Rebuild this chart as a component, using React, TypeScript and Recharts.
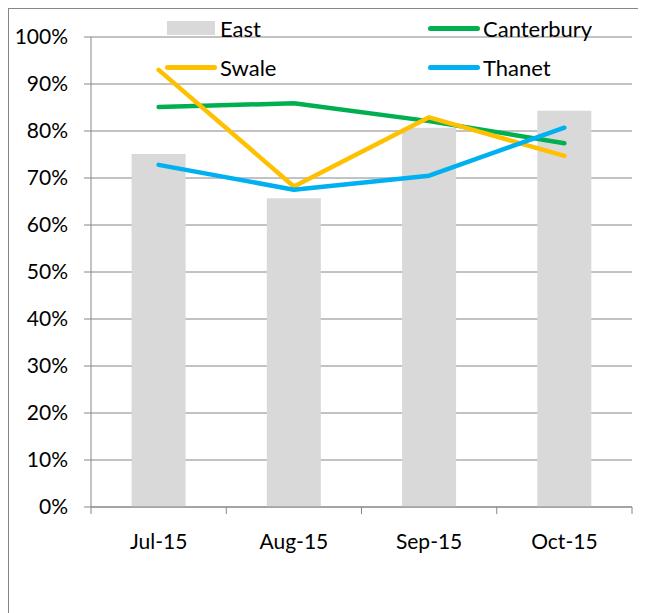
import { ComposedChart, Bar, Line, XAxis, YAxis, CartesianGrid } from "recharts";

const months = ["Jul-15", "Aug-15", "Sep-15", "Oct-15"];
const east = [0.751, 0.657, 0.807, 0.843];
const canterbury = [0.851, 0.859, 0.821, 0.774];
const swale = [0.93, 0.682, 0.829, 0.747];
const thanet = [0.728, 0.675, 0.705, 0.807];
const yTicks = [0, 0.1, 0.2, 0.3, 0.4, 0.5, 0.6, 0.7, 0.8, 0.9, 1];

const data = months.map((m, i) => ({
      month: m,
      East: east[i],
      Canterbury: canterbury[i],
      Swale: swale[i],
      Thanet: thanet[i],
}));

const FONT = "Lato, 'Open Sans', sans-serif";
const AXIS = "#868686";
const W = 634;
const H = 618;
const M = { top: 28, right: 11, left: 22, bottom: 80 };
const Y_W = 60;
const BAND = (W - M.left - M.right - Y_W) / months.length;

const legendItems = [
      { name: "East", color: "#D9D9D9", kind: "bar", x: 158, y: 9 },
      { name: "Canterbury", color: "#00B050", kind: "line", x: 419, y: 9 },
      { name: "Swale", color: "#FFC000", kind: "line", x: 156, y: 48 },
      { name: "Thanet", color: "#00B0F0", kind: "line", x: 419, y: 48 },
];

const MonthTick = (props: any) => {
      const { x, y, payload, index } = props;
      const left = x - BAND / 2;
      return (
            <g>
                  <line x1={left} y1={y} x2={left} y2={y + 7} stroke={AXIS} />
                  {index === months.length - 1 && (
                        <line x1={x + BAND / 2} y1={y} x2={x + BAND / 2} y2={y + 7} stroke={AXIS} />
                  )}
                  <text x={x} y={y + 33} textAnchor="middle" dominantBaseline="central" fill="#000" fontSize={21} fontFamily={FONT}>
                        {payload.value}
                  </text>
            </g>
      );
};

const App = () => {
      return (
            <div style={{ position: "relative", width: W + 2, height: H + 2, border: `1px solid ${AXIS}`, boxSizing: "border-box", background: "#fff" }}>
                  <ComposedChart width={W} height={H} data={data} margin={M} barCategoryGap="30%">
                        <CartesianGrid vertical={false} stroke={AXIS} />
                        <XAxis
                              dataKey="month"
                              stroke={AXIS}
                              tickLine={false}
                              tickSize={0}
                              tickMargin={0}
                              height={40}
                              tick={<MonthTick />}
                              interval={0}
                        />
                        <YAxis
                              domain={[0, 1]}
                              ticks={yTicks}
                              width={Y_W}
                              stroke={AXIS}
                              tickSize={7}
                              tickMargin={16}
                              tickFormatter={(v: number) => `${Math.round(v * 100)}%`}
                              tick={{ fill: "#000", fontSize: 21, fontFamily: FONT }}
                        />
                        <Bar dataKey="East" fill="#D9D9D9" isAnimationActive={false} />
                        <Line dataKey="Canterbury" stroke="#00B050" strokeWidth={4.5} dot={false} strokeLinecap="round" strokeLinejoin="round" isAnimationActive={false} />
                        <Line dataKey="Swale" stroke="#FFC000" strokeWidth={4.5} dot={false} strokeLinecap="round" strokeLinejoin="round" isAnimationActive={false} />
                        <Line dataKey="Thanet" stroke="#00B0F0" strokeWidth={4.5} dot={false} strokeLinecap="round" strokeLinejoin="round" isAnimationActive={false} />
                  </ComposedChart>
                  {legendItems.map((it) => (
                        <div key={it.name} style={{ position: "absolute", left: it.x, top: it.y, height: 20, display: "flex", alignItems: "center", fontFamily: FONT, fontSize: 22, color: "#000", whiteSpace: "nowrap" }}>
                              {it.kind === "bar" ? (
                                    <div style={{ width: 48, height: 14, background: it.color }} />
                              ) : (
                                    <div style={{ width: 52, height: 5, borderRadius: 3, background: it.color }} />
                              )}
                              <span style={{ marginLeft: it.kind === "bar" ? 5 : 3 }}>{it.name}</span>
                        </div>
                  ))}
            </div>
      );
};

export default App;
